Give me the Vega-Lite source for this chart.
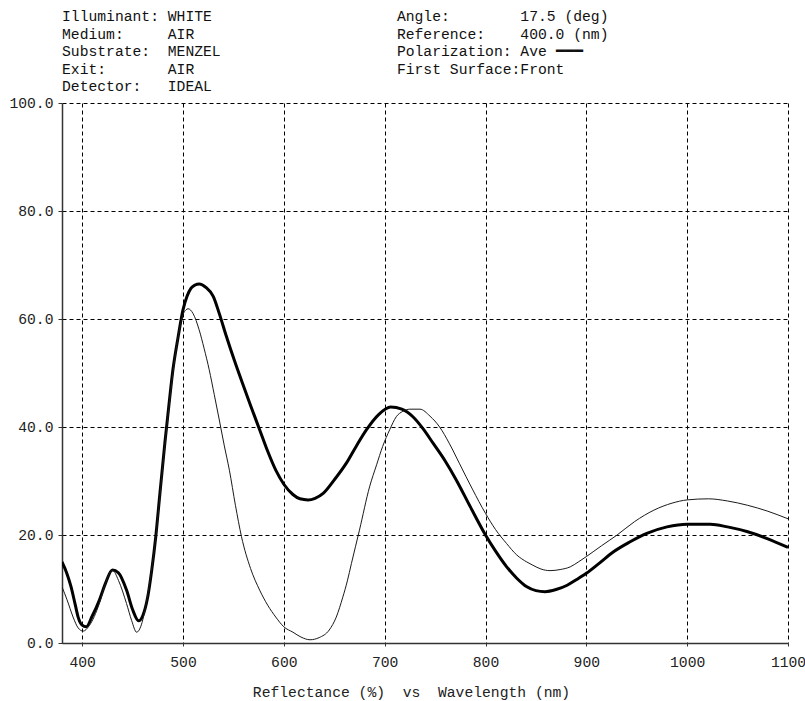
{
  "$schema": "https://vega.github.io/schema/vega-lite/v6.json",
  "autosize": {"type": "none"},
  "width": 726,
  "height": 540,
  "padding": {"left": 62, "top": 103, "right": 17, "bottom": 58},
  "background": "white",
  "config": {
    "view": {"stroke": null},
    "font": "Liberation Mono",
    "axis": {
      "labelFont": "Liberation Mono",
      "labelFontSize": 14.7,
      "labelColor": "#222222",
      "titleFont": "Liberation Mono",
      "titleFontSize": 14.7,
      "titleFontWeight": "normal",
      "titleColor": "#222222",
      "domainColor": "#333333",
      "domainWidth": 1.5,
      "tickColor": "#333333",
      "tickSize": 4,
      "gridColor": "#000000",
      "gridOpacity": 1,
      "gridWidth": 1,
      "gridDash": [4, 3]
    }
  },
  "title": {
    "text": [
      "Illuminant: WHITE\u00a0\u00a0\u00a0\u00a0\u00a0\u00a0\u00a0\u00a0\u00a0\u00a0\u00a0\u00a0\u00a0\u00a0\u00a0\u00a0\u00a0\u00a0\u00a0\u00a0\u00a0Angle:\u00a0\u00a0\u00a0\u00a0\u00a0\u00a0\u00a0\u00a017.5 (deg)",
      "Medium:\u00a0\u00a0\u00a0\u00a0\u00a0AIR\u00a0\u00a0\u00a0\u00a0\u00a0\u00a0\u00a0\u00a0\u00a0\u00a0\u00a0\u00a0\u00a0\u00a0\u00a0\u00a0\u00a0\u00a0\u00a0\u00a0\u00a0\u00a0\u00a0Reference:\u00a0\u00a0\u00a0\u00a0400.0 (nm)",
      "Substrate:\u00a0\u00a0MENZEL\u00a0\u00a0\u00a0\u00a0\u00a0\u00a0\u00a0\u00a0\u00a0\u00a0\u00a0\u00a0\u00a0\u00a0\u00a0\u00a0\u00a0\u00a0\u00a0\u00a0Polarization: Ave ━━━",
      "Exit:\u00a0\u00a0\u00a0\u00a0\u00a0\u00a0\u00a0AIR\u00a0\u00a0\u00a0\u00a0\u00a0\u00a0\u00a0\u00a0\u00a0\u00a0\u00a0\u00a0\u00a0\u00a0\u00a0\u00a0\u00a0\u00a0\u00a0\u00a0\u00a0\u00a0\u00a0First Surface:Front",
      "Detector:\u00a0\u00a0\u00a0IDEAL"
    ],
    "anchor": "start",
    "frame": "group",
    "font": "Liberation Mono",
    "fontSize": 14.7,
    "fontWeight": "normal",
    "color": "#111111",
    "lineHeight": 17.5,
    "baseline": "bottom",
    "offset": 9,
    "dy": 23
  },
  "data": {
    "values": [
      {"s": "Ave", "w": 380, "r": 15.0},
      {"s": "Ave", "w": 385, "r": 12.8},
      {"s": "Ave", "w": 389, "r": 10.4},
      {"s": "Ave", "w": 393, "r": 7.2},
      {"s": "Ave", "w": 396, "r": 4.8},
      {"s": "Ave", "w": 400, "r": 3.3},
      {"s": "Ave", "w": 404, "r": 3.0},
      {"s": "Ave", "w": 410, "r": 5.0},
      {"s": "Ave", "w": 417, "r": 7.9},
      {"s": "Ave", "w": 423, "r": 11.0},
      {"s": "Ave", "w": 430, "r": 13.5},
      {"s": "Ave", "w": 436, "r": 13.0},
      {"s": "Ave", "w": 444, "r": 9.8},
      {"s": "Ave", "w": 450, "r": 6.2},
      {"s": "Ave", "w": 456, "r": 4.1},
      {"s": "Ave", "w": 460, "r": 5.0},
      {"s": "Ave", "w": 465, "r": 8.5},
      {"s": "Ave", "w": 469, "r": 13.5},
      {"s": "Ave", "w": 473, "r": 19.7},
      {"s": "Ave", "w": 477, "r": 27.5},
      {"s": "Ave", "w": 482, "r": 37.0},
      {"s": "Ave", "w": 486, "r": 44.0},
      {"s": "Ave", "w": 490, "r": 50.6},
      {"s": "Ave", "w": 495, "r": 56.5},
      {"s": "Ave", "w": 500, "r": 61.7},
      {"s": "Ave", "w": 504, "r": 64.2},
      {"s": "Ave", "w": 508, "r": 65.7},
      {"s": "Ave", "w": 512, "r": 66.3},
      {"s": "Ave", "w": 516, "r": 66.5},
      {"s": "Ave", "w": 523, "r": 65.8},
      {"s": "Ave", "w": 530, "r": 64.2},
      {"s": "Ave", "w": 536, "r": 61.0},
      {"s": "Ave", "w": 543, "r": 56.8},
      {"s": "Ave", "w": 551, "r": 52.3},
      {"s": "Ave", "w": 559, "r": 48.1},
      {"s": "Ave", "w": 567, "r": 44.0},
      {"s": "Ave", "w": 576, "r": 39.5},
      {"s": "Ave", "w": 584, "r": 35.5},
      {"s": "Ave", "w": 592, "r": 32.0},
      {"s": "Ave", "w": 600, "r": 29.4},
      {"s": "Ave", "w": 609, "r": 27.5},
      {"s": "Ave", "w": 616, "r": 26.7},
      {"s": "Ave", "w": 624, "r": 26.5},
      {"s": "Ave", "w": 631, "r": 26.8},
      {"s": "Ave", "w": 639, "r": 27.7},
      {"s": "Ave", "w": 650, "r": 30.2},
      {"s": "Ave", "w": 662, "r": 33.3},
      {"s": "Ave", "w": 672, "r": 36.5},
      {"s": "Ave", "w": 682, "r": 39.5},
      {"s": "Ave", "w": 694, "r": 42.3},
      {"s": "Ave", "w": 706, "r": 43.7},
      {"s": "Ave", "w": 717, "r": 43.3},
      {"s": "Ave", "w": 728, "r": 41.9},
      {"s": "Ave", "w": 738, "r": 39.7},
      {"s": "Ave", "w": 748, "r": 37.0},
      {"s": "Ave", "w": 760, "r": 33.7},
      {"s": "Ave", "w": 771, "r": 30.2},
      {"s": "Ave", "w": 785, "r": 25.2},
      {"s": "Ave", "w": 800, "r": 20.0},
      {"s": "Ave", "w": 810, "r": 17.0},
      {"s": "Ave", "w": 821, "r": 14.1},
      {"s": "Ave", "w": 831, "r": 12.0},
      {"s": "Ave", "w": 841, "r": 10.4},
      {"s": "Ave", "w": 850, "r": 9.7},
      {"s": "Ave", "w": 859, "r": 9.5},
      {"s": "Ave", "w": 870, "r": 9.9},
      {"s": "Ave", "w": 881, "r": 10.7},
      {"s": "Ave", "w": 890, "r": 11.7},
      {"s": "Ave", "w": 900, "r": 12.9},
      {"s": "Ave", "w": 913, "r": 14.8},
      {"s": "Ave", "w": 927, "r": 16.9},
      {"s": "Ave", "w": 943, "r": 18.7},
      {"s": "Ave", "w": 960, "r": 20.3},
      {"s": "Ave", "w": 980, "r": 21.5},
      {"s": "Ave", "w": 1000, "r": 22.0},
      {"s": "Ave", "w": 1023, "r": 22.0},
      {"s": "Ave", "w": 1040, "r": 21.5},
      {"s": "Ave", "w": 1060, "r": 20.6},
      {"s": "Ave", "w": 1080, "r": 19.3},
      {"s": "Ave", "w": 1100, "r": 17.7},
      {"s": "Ref", "w": 380, "r": 10.4},
      {"s": "Ref", "w": 385, "r": 8.0},
      {"s": "Ref", "w": 391, "r": 4.8},
      {"s": "Ref", "w": 396, "r": 2.8},
      {"s": "Ref", "w": 401, "r": 2.2},
      {"s": "Ref", "w": 407, "r": 3.2},
      {"s": "Ref", "w": 417, "r": 7.3},
      {"s": "Ref", "w": 423, "r": 11.0},
      {"s": "Ref", "w": 430, "r": 13.5},
      {"s": "Ref", "w": 436, "r": 11.6},
      {"s": "Ref", "w": 444, "r": 7.3},
      {"s": "Ref", "w": 449, "r": 4.2},
      {"s": "Ref", "w": 454, "r": 2.0},
      {"s": "Ref", "w": 458, "r": 3.0},
      {"s": "Ref", "w": 463.5, "r": 7.3},
      {"s": "Ref", "w": 468, "r": 12.5},
      {"s": "Ref", "w": 473, "r": 19.5},
      {"s": "Ref", "w": 477, "r": 27.0},
      {"s": "Ref", "w": 482, "r": 36.5},
      {"s": "Ref", "w": 486, "r": 43.5},
      {"s": "Ref", "w": 490, "r": 50.0},
      {"s": "Ref", "w": 495, "r": 56.5},
      {"s": "Ref", "w": 500, "r": 60.8},
      {"s": "Ref", "w": 503, "r": 61.7},
      {"s": "Ref", "w": 505, "r": 61.9},
      {"s": "Ref", "w": 510, "r": 61.0},
      {"s": "Ref", "w": 516, "r": 58.0},
      {"s": "Ref", "w": 521, "r": 54.5},
      {"s": "Ref", "w": 526, "r": 50.6},
      {"s": "Ref", "w": 531, "r": 46.0},
      {"s": "Ref", "w": 536, "r": 41.3},
      {"s": "Ref", "w": 541, "r": 36.5},
      {"s": "Ref", "w": 546, "r": 32.0},
      {"s": "Ref", "w": 552, "r": 25.5},
      {"s": "Ref", "w": 558, "r": 19.7},
      {"s": "Ref", "w": 567, "r": 13.8},
      {"s": "Ref", "w": 576, "r": 9.8},
      {"s": "Ref", "w": 584, "r": 7.0},
      {"s": "Ref", "w": 592, "r": 4.8},
      {"s": "Ref", "w": 600, "r": 3.0},
      {"s": "Ref", "w": 609, "r": 2.0},
      {"s": "Ref", "w": 617, "r": 1.1},
      {"s": "Ref", "w": 626, "r": 0.6},
      {"s": "Ref", "w": 635, "r": 1.0},
      {"s": "Ref", "w": 645, "r": 2.4},
      {"s": "Ref", "w": 652, "r": 4.8},
      {"s": "Ref", "w": 658.5, "r": 8.5},
      {"s": "Ref", "w": 663, "r": 11.5},
      {"s": "Ref", "w": 667, "r": 14.7},
      {"s": "Ref", "w": 675, "r": 20.9},
      {"s": "Ref", "w": 685, "r": 28.9},
      {"s": "Ref", "w": 692, "r": 33.0},
      {"s": "Ref", "w": 698, "r": 36.4},
      {"s": "Ref", "w": 705, "r": 39.5},
      {"s": "Ref", "w": 711.5, "r": 41.9},
      {"s": "Ref", "w": 718, "r": 42.9},
      {"s": "Ref", "w": 725, "r": 43.3},
      {"s": "Ref", "w": 735, "r": 43.3},
      {"s": "Ref", "w": 745, "r": 42.0},
      {"s": "Ref", "w": 754.5, "r": 40.0},
      {"s": "Ref", "w": 764, "r": 37.0},
      {"s": "Ref", "w": 774, "r": 33.3},
      {"s": "Ref", "w": 787, "r": 28.5},
      {"s": "Ref", "w": 800, "r": 24.0},
      {"s": "Ref", "w": 810, "r": 21.0},
      {"s": "Ref", "w": 821, "r": 18.4},
      {"s": "Ref", "w": 831, "r": 16.3},
      {"s": "Ref", "w": 841, "r": 15.0},
      {"s": "Ref", "w": 847, "r": 14.4},
      {"s": "Ref", "w": 855, "r": 13.7},
      {"s": "Ref", "w": 864, "r": 13.4},
      {"s": "Ref", "w": 874, "r": 13.6},
      {"s": "Ref", "w": 884, "r": 14.1},
      {"s": "Ref", "w": 892, "r": 15.0},
      {"s": "Ref", "w": 900, "r": 16.0},
      {"s": "Ref", "w": 915, "r": 18.0},
      {"s": "Ref", "w": 930.5, "r": 20.0},
      {"s": "Ref", "w": 948, "r": 22.5},
      {"s": "Ref", "w": 967, "r": 24.6},
      {"s": "Ref", "w": 985, "r": 25.9},
      {"s": "Ref", "w": 1000, "r": 26.5},
      {"s": "Ref", "w": 1021, "r": 26.7},
      {"s": "Ref", "w": 1040, "r": 26.3},
      {"s": "Ref", "w": 1060, "r": 25.5},
      {"s": "Ref", "w": 1080, "r": 24.4},
      {"s": "Ref", "w": 1100, "r": 23.0}
    ]
  },
  "mark": {"type": "line", "interpolate": "monotone", "clip": true},
  "encoding": {
    "x": {
      "field": "w",
      "type": "quantitative",
      "scale": {"domain": [380, 1100], "nice": false, "zero": false},
      "axis": {
        "values": [400, 500, 600, 700, 800, 900, 1000, 1100],
        "format": "d",
        "labelPadding": 8,
        "labelFlush": false,
        "tickSize": 3,
        "title": "Reflectance (%)\u00a0\u00a0vs\u00a0\u00a0Wavelength (nm)",
        "titlePadding": 16,
        "titleX": 349,
        "titleAnchor": "middle"
      }
    },
    "y": {
      "field": "r",
      "type": "quantitative",
      "scale": {"domain": [0, 100], "nice": false},
      "axis": {
        "values": [0, 20, 40, 60, 80, 100],
        "format": ".1f",
        "labelPadding": 5,
        "labelFlush": false,
        "tickSize": 4,
        "title": null
      }
    },
    "detail": {"field": "s"},
    "strokeWidth": {
      "field": "s",
      "type": "nominal",
      "scale": {"domain": ["Ave", "Ref"], "range": [3, 1]},
      "legend": null
    },
    "color": {
      "field": "s",
      "type": "nominal",
      "scale": {"domain": ["Ave", "Ref"], "range": ["#000000", "#1a1a1a"]},
      "legend": null
    }
  }
}
